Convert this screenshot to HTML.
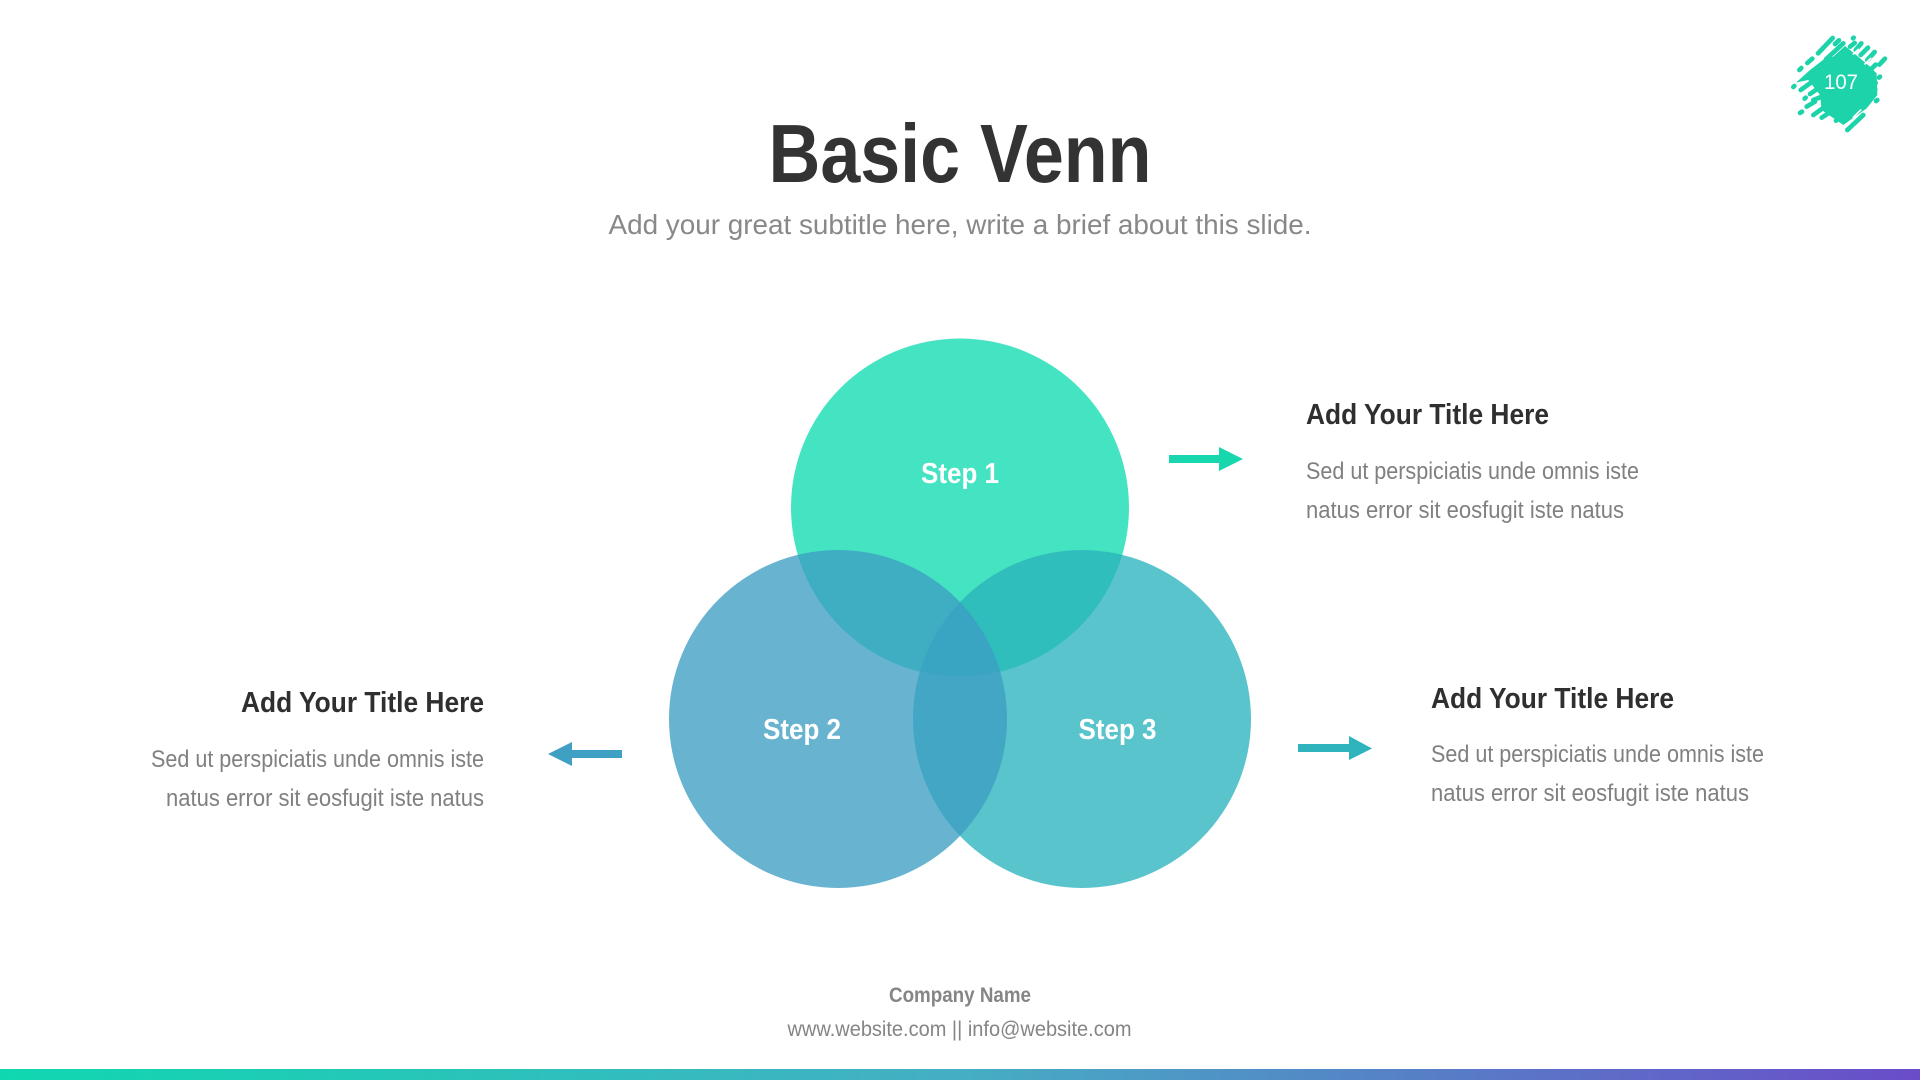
<!DOCTYPE html>
<html lang="en">
<head>
<meta charset="utf-8">
<title>Basic Venn</title>
<style>
html,body{margin:0;padding:0;background:#fff;width:1920px;height:1080px;overflow:hidden}
svg{display:block}
text{font-family:"Liberation Sans",sans-serif}
.h{font-size:29px;font-weight:700;fill:#2f2f2f}
.b{font-size:24px;fill:#808080}
.s{font-size:29px;font-weight:700;fill:#fff}
</style>
</head>
<body>
<svg width="1920" height="1080" viewBox="0 0 1920 1080" xmlns="http://www.w3.org/2000/svg">
<defs>
<linearGradient id="g" x1="0" y1="0" x2="1" y2="0">
<stop offset="0" stop-color="#0fd8b0"/>
<stop offset="0.5" stop-color="#45aec4"/>
<stop offset="1" stop-color="#6a4cc9"/>
</linearGradient>
</defs>
<rect width="1920" height="1080" fill="#fff"/>

<text x="960" y="182" text-anchor="middle" font-size="83" font-weight="700" fill="#333" textLength="383" lengthAdjust="spacingAndGlyphs">Basic Venn</text>
<text x="960" y="234" text-anchor="middle" font-size="28" fill="#888" textLength="703" lengthAdjust="spacingAndGlyphs">Add your great subtitle here, write a brief about this slide.</text>

<circle cx="960" cy="507.5" r="169" fill="#44e3c1"/>
<circle cx="1082" cy="719" r="169" fill="#2ab4bc" fill-opacity="0.78"/>
<circle cx="838" cy="719" r="169" fill="#3e9dc3" fill-opacity="0.78"/>

<text class="s" x="960" y="483" text-anchor="middle" textLength="78" lengthAdjust="spacingAndGlyphs">Step 1</text>
<text class="s" x="802" y="739" text-anchor="middle" textLength="78" lengthAdjust="spacingAndGlyphs">Step 2</text>
<text class="s" x="1117.500" y="739" text-anchor="middle" textLength="78" lengthAdjust="spacingAndGlyphs">Step 3</text>

<polygon points="1169,455 1219,455 1219,447 1243,459 1219,471 1219,463 1169,463" fill="#18d6ae"/>
<polygon points="622,750 572,750 572,742 548,754 572,766 572,758 622,758" fill="#3fa0c3"/>
<polygon points="1298,744 1349,744 1349,736 1372,748.500 1349,760 1349,752 1298,752" fill="#2fb3bd"/>

<text class="h" x="1306" y="424" textLength="243" lengthAdjust="spacingAndGlyphs">Add Your Title Here</text>
<text class="b" x="1306" y="479" textLength="333" lengthAdjust="spacingAndGlyphs">Sed ut perspiciatis unde omnis iste</text>
<text class="b" x="1306" y="518" textLength="318" lengthAdjust="spacingAndGlyphs">natus error sit eosfugit iste natus</text>

<text class="h" x="241" y="712" textLength="243" lengthAdjust="spacingAndGlyphs">Add Your Title Here</text>
<text class="b" x="151" y="767" textLength="333" lengthAdjust="spacingAndGlyphs">Sed ut perspiciatis unde omnis iste</text>
<text class="b" x="166" y="806" textLength="318" lengthAdjust="spacingAndGlyphs">natus error sit eosfugit iste natus</text>

<text class="h" x="1431" y="708" textLength="243" lengthAdjust="spacingAndGlyphs">Add Your Title Here</text>
<text class="b" x="1431" y="762" textLength="333" lengthAdjust="spacingAndGlyphs">Sed ut perspiciatis unde omnis iste</text>
<text class="b" x="1431" y="801" textLength="318" lengthAdjust="spacingAndGlyphs">natus error sit eosfugit iste natus</text>

<text x="960" y="1002" text-anchor="middle" font-size="21" font-weight="700" fill="#858585" textLength="142" lengthAdjust="spacingAndGlyphs">Company Name</text>
<text x="959.500" y="1036" text-anchor="middle" font-size="21" fill="#858585" textLength="344" lengthAdjust="spacingAndGlyphs">www.website.com || info@website.com</text>

<rect x="0" y="1069" width="1920" height="11" fill="url(#g)"/>

<g transform="translate(1790 30) scale(0.3333)">
<polygon points="18,158 60,120 105,85 130,80 165,48 195,72 240,110 260,130 262,195 230,235 160,285 95,240 90,195 55,150" fill="#1dd3a9"/>
<g stroke="#1dd3a9" stroke-width="14" stroke-linecap="round" fill="none">
<line x1="28" y1="120" x2="34" y2="114"/>
<line x1="52" y1="99" x2="67" y2="86"/>
<line x1="84" y1="70" x2="128" y2="24"/>
<line x1="135" y1="42" x2="147" y2="31"/>
<line x1="108" y1="88" x2="160" y2="40"/>
<line x1="189" y1="25" x2="191" y2="23"/>
<line x1="180" y1="50" x2="194" y2="39"/>
<line x1="197" y1="60" x2="214" y2="40"/>
<line x1="212" y1="75" x2="234" y2="53"/>
<line x1="232" y1="90" x2="254" y2="66"/>
<line x1="268" y1="104" x2="285" y2="86"/>
<line x1="246" y1="115" x2="257" y2="104"/>
<line x1="267" y1="143" x2="270" y2="140"/>
<line x1="246" y1="170" x2="257" y2="159"/>
<line x1="10" y1="171" x2="13" y2="168"/>
<line x1="32" y1="180" x2="60" y2="160"/>
<line x1="60" y1="192" x2="92" y2="170"/>
<line x1="44" y1="206" x2="47" y2="203"/>
<line x1="70" y1="210" x2="95" y2="200"/>
<line x1="50" y1="230" x2="75" y2="215"/>
<line x1="30" y1="249" x2="36" y2="245"/>
<line x1="70" y1="255" x2="98" y2="235"/>
<line x1="95" y1="263" x2="115" y2="250"/>
<line x1="138" y1="272" x2="155" y2="258"/>
<line x1="172" y1="300" x2="220" y2="255"/>
<line x1="202" y1="245" x2="240" y2="210"/>
<line x1="258" y1="213" x2="262" y2="210"/>
<line x1="228" y1="210" x2="256" y2="178"/>
</g>
<g stroke="#fff" stroke-width="5" stroke-linecap="round" fill="none">
<line x1="190" y1="72" x2="205" y2="58"/>
<line x1="225" y1="102" x2="242" y2="85"/>
<line x1="190" y1="262" x2="212" y2="240"/>
</g>
</g>
<text x="1841" y="89" text-anchor="middle" font-size="21" fill="#fff" textLength="34" lengthAdjust="spacingAndGlyphs">107</text>
</svg>
</body>
</html>
